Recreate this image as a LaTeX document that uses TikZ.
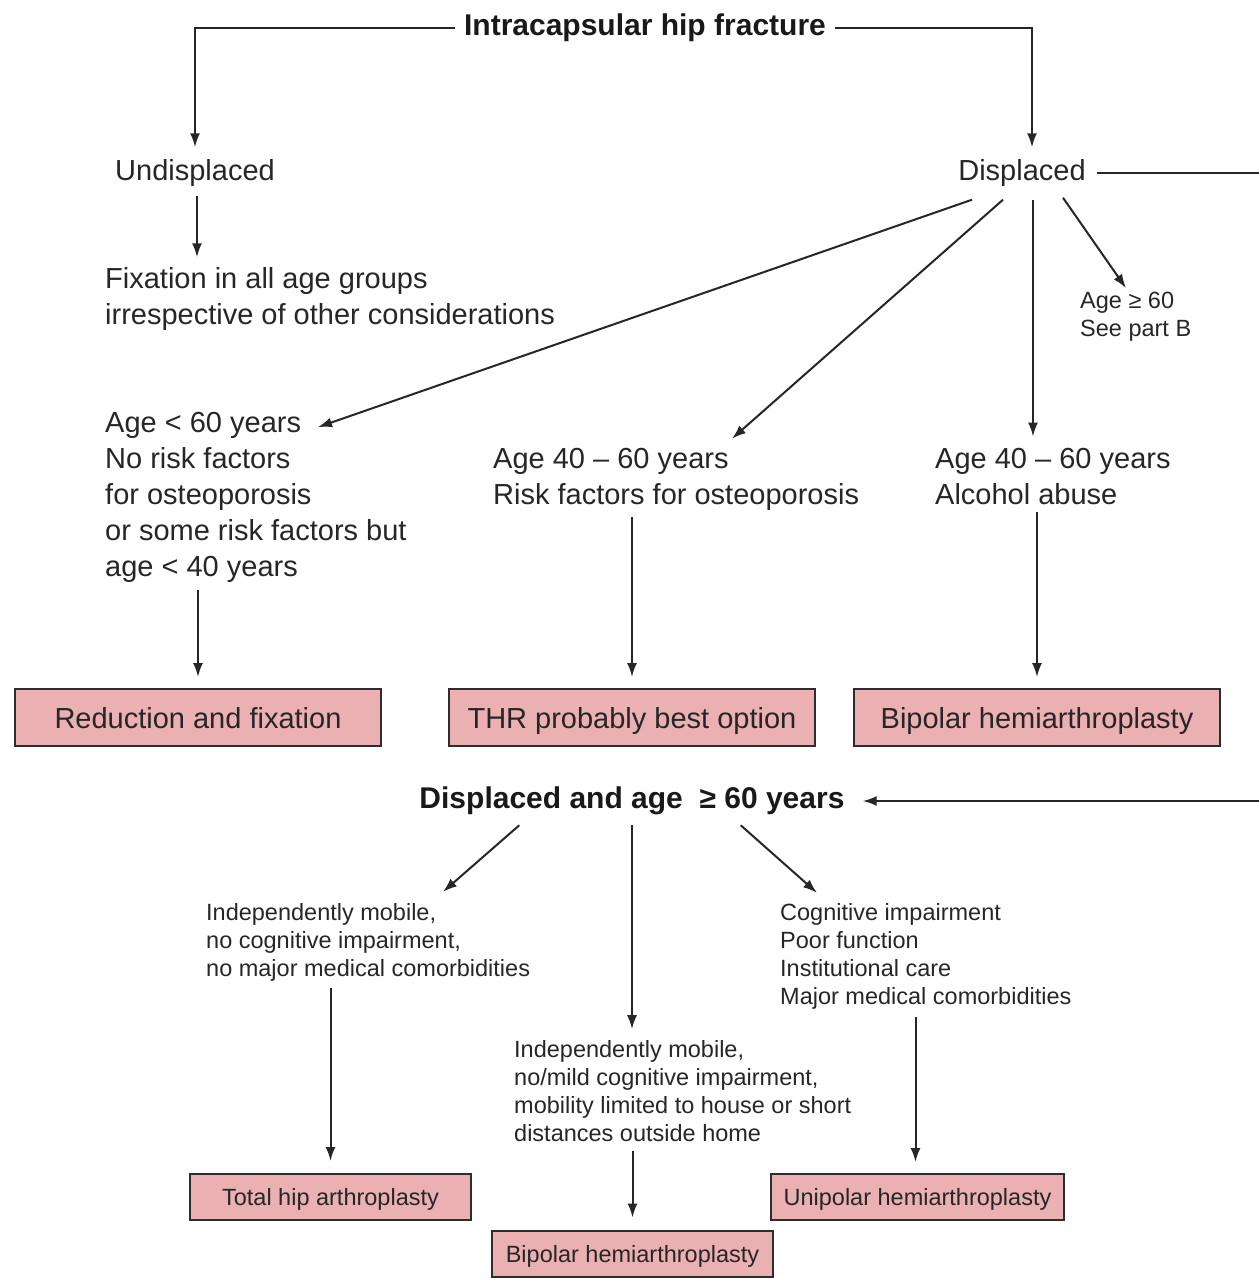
\documentclass[tikz,border=0pt]{standalone}
\usepackage{fontspec}
\setmainfont{Liberation Sans}
\usetikzlibrary{arrows.meta}
\definecolor{boxpink}{RGB}{235,176,177}
\definecolor{edgegray}{RGB}{45,45,45}
\tikzset{
  big/.style={font=\fontsize{29}{36}\selectfont, inner sep=0pt, align=left, text=black!85},
  small/.style={font=\fontsize{23.5}{28}\selectfont, inner sep=0pt, align=left, text=black!85},
  head/.style={font=\bfseries\fontsize{30}{36}\selectfont, inner sep=0pt, text=black!90},
  bigbox/.style={draw=edgegray, line width=2pt, fill=boxpink, minimum width=366pt, minimum height=57pt, text height=21pt, text depth=0pt, font=\fontsize{29}{36}\selectfont, text=black!85},
  smallbox/.style={draw=edgegray, line width=2pt, fill=boxpink, minimum height=46pt, text height=17pt, text depth=0pt, font=\fontsize{23.5}{28}\selectfont, text=black!85},
  arr/.style={-{Latex[length=14pt,width=10pt]}, line width=2pt, draw=black!85},
}
\begin{document}
\begin{tikzpicture}[x=1pt,y=-1pt]
  \useasboundingbox (0,0) rectangle (1259,1278);
  \node[head] (hip) at (645,28) {Intracapsular hip fracture};
  \node[big] (undisp) at (195,173) {Undisplaced};
  \node[big] (disp) at (1022,173) {Displaced};
  \node[big, anchor=west] (fixall) at (105,299) {Fixation in all age groups\\irrespective of other considerations};
  \node[small, anchor=west] (seeb) at (1080,317) {Age ≥ 60\\See part B};
  \node[big, anchor=west] (young) at (105,497.5) {Age < 60 years\\No risk factors\\for osteoporosis\\or some risk factors but\\age < 40 years};
  \node[big, anchor=west] (midage) at (493,479) {Age 40 -- 60 years\\Risk factors for osteoporosis};
  \node[big, anchor=west] (alcohol) at (935,477) {Age 40 -- 60 years\\Alcohol abuse};
  \node[bigbox] (redfix) at (198,717.5) {Reduction and fixation};
  \node[bigbox] (thr) at (632,717.5) {THR probably best option};
  \node[bigbox] (bipolar) at (1037,717.5) {Bipolar hemiarthroplasty};

  \draw[arr, shorten >=12pt] ([xshift=-9pt]hip.west) -| (undisp.north);
  \draw[arr, shorten >=12pt] ([xshift=9pt]hip.east) -| ([xshift=10pt]disp.north);
  \draw[arr, shorten <=9pt, shorten >=10pt] ([xshift=2pt]undisp.south) -- ([xshift=2pt]undisp.south |- fixall.north);
  \draw[arr] ([xshift=-50pt,yshift=-13pt]disp.south) -- ([xshift=213pt,yshift=-15pt]young.north west);
  \draw[arr] ([xshift=-19pt,yshift=-13pt]disp.south) -- ([xshift=239pt,yshift=9pt]midage.north west);
  \draw[arr, shorten >=12pt] ([xshift=11pt,yshift=-13pt]disp.south) -- ([xshift=11pt]disp.south |- alcohol.north);
  \draw[arr] ([xshift=41pt,yshift=-11pt]disp.south) -- ([xshift=46pt,yshift=4pt]seeb.north west);
  \draw[arr, shorten <=7pt, shorten >=11pt] (redfix.north |- young.south) -- (redfix.north);
  \draw[arr, shorten <=7pt, shorten >=11pt] (thr.north |- midage.south) -- (thr.north);
  \draw[arr, shorten <=7pt, shorten >=11pt] (bipolar.north |- alcohol.south) -- (bipolar.north);

  \node[head] (old) at (632,801) {Displaced and age\ \ ≥ 60 years};
  \node[small, anchor=west] (mobile) at (206,942) {Independently mobile,\\no cognitive impairment,\\no major medical comorbidities};
  \node[small, anchor=west] (limited) at (514,1091) {Independently mobile,\\no/mild cognitive impairment,\\mobility limited to house or short\\distances outside home};
  \node[small, anchor=west] (frail) at (780,956) {Cognitive impairment\\Poor function\\Institutional care\\Major medical comorbidities};
  \node[smallbox, minimum width=281pt] (tha) at (330.5,1197) {Total hip arthroplasty};
  \node[smallbox, minimum width=281pt] (bipsmall) at (632.5,1253.5) {Bipolar hemiarthroplasty};
  \node[smallbox, minimum width=293pt] (unipolar) at (917.5,1197) {Unipolar hemiarthroplasty};

  \draw[arr] ([xshift=11pt]disp.east) -- ++(180,0) |- ([xshift=18pt]old.east);
  \draw[arr] ([xshift=100pt,yshift=-10pt]old.south west) -- ([xshift=237pt,yshift=11pt]mobile.north west);
  \draw[arr, shorten <=10pt, shorten >=11pt] (old.south) -- (old.south |- limited.north);
  \draw[arr] ([xshift=-104pt,yshift=-10pt]old.south east) -- ([xshift=37pt,yshift=10pt]frail.north west);
  \draw[arr, shorten <=7pt, shorten >=12pt] (tha.north |- mobile.south) -- (tha.north);
  \draw[arr, shorten <=9pt, shorten >=12pt] (bipsmall.north |- limited.south) -- (bipsmall.north);
  \draw[arr, shorten <=8pt, shorten >=11pt] ([xshift=-2pt]unipolar.north |- frail.south) -- ([xshift=-2pt]unipolar.north);
\end{tikzpicture}
\end{document}
